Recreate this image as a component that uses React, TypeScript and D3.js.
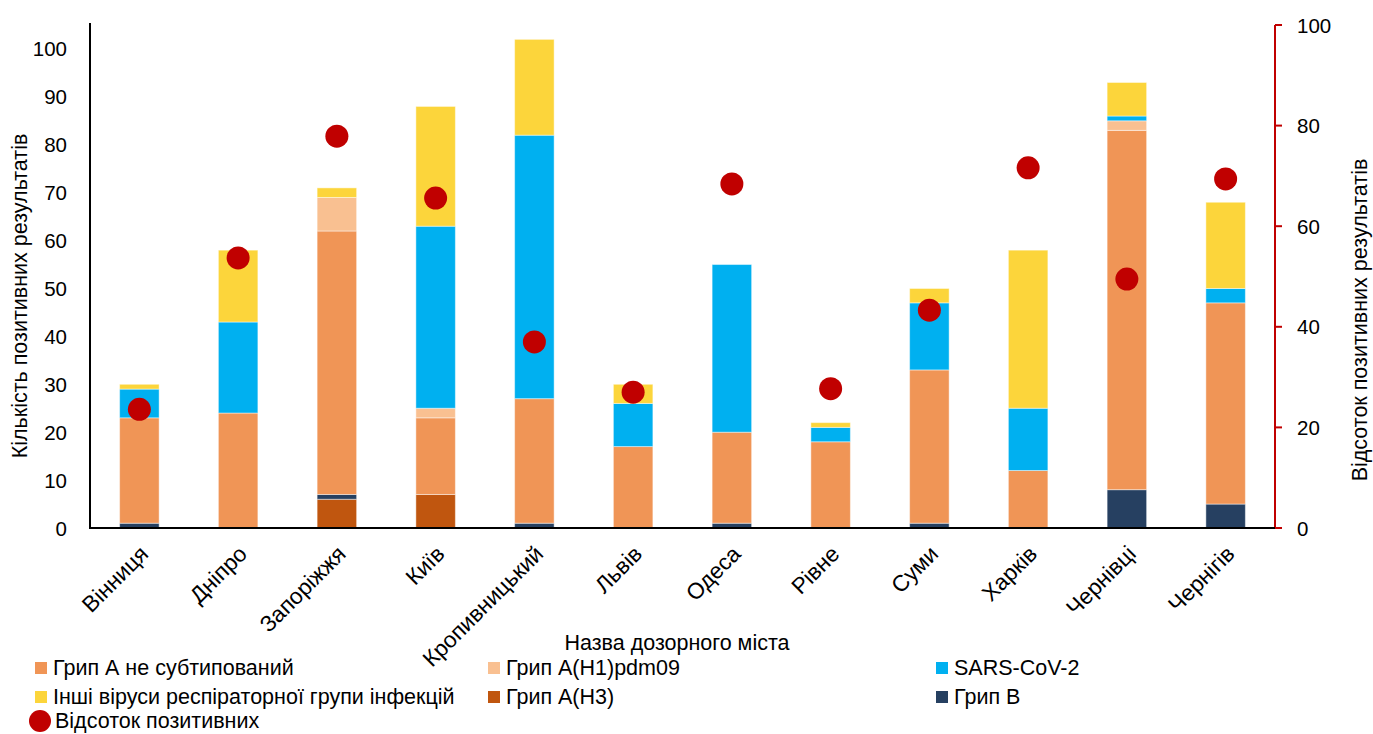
import React from 'react';
import * as d3 from 'd3';

const cities = ['Вінниця', 'Дніпро', 'Запоріжжя', 'Київ', 'Кропивницький', 'Львів', 'Одеса', 'Рівне', 'Суми', 'Харків', 'Чернівці', 'Чернігів'];

// stacked from bottom to top
const fluH3 = [0, 0, 6, 7, 0, 0, 0, 0, 0, 0, 0, 0];
const fluB = [1, 0, 1, 0, 1, 0, 1, 0, 1, 0, 8, 5];
const fluANotSub = [22, 24, 55, 16, 26, 17, 19, 18, 32, 12, 75, 42];
const fluH1 = [0, 0, 7, 2, 0, 0, 0, 0, 0, 0, 2, 0];
const sarsCov2 = [6, 19, 0, 38, 55, 9, 35, 3, 14, 13, 1, 3];
const otherViruses = [1, 15, 2, 25, 20, 4, 0, 1, 3, 33, 7, 18];

const positivePct = [23.6, 53.7, 77.9, 65.6, 37.0, 27.0, 68.4, 27.7, 43.3, 71.6, 49.5, 69.4];

const leftTicks = [0, 10, 20, 30, 40, 50, 60, 70, 80, 90, 100];
const rightTicks = [0, 20, 40, 60, 80, 100];

const series = [
  { key: 'h3', name: 'Грип A(H3)', values: fluH3, color: '#C0560F' },
  { key: 'b', name: 'Грип B', values: fluB, color: '#264061' },
  { key: 'a', name: 'Грип А не субтипований', values: fluANotSub, color: '#F09556' },
  { key: 'h1', name: 'Грип А(H1)pdm09', values: fluH1, color: '#F9C091' },
  { key: 'sars', name: 'SARS-CoV-2', values: sarsCov2, color: '#00B0F0' },
  { key: 'other', name: 'Інші віруси респіраторної групи інфекцій', values: otherViruses, color: '#FCD53B' },
];

const legendRows = [
  ['a', 'h1', 'sars'],
  ['other', 'h3', 'b'],
];

const W = 1373;
const H = 734;
const plot = { left: 90, right: 1275, top: 25, bottom: 528 };
const font = '"Liberation Sans", Arial, sans-serif';
const fs = 21.5;
const tickFs = 20.5;
const catFs = 22.5;

export default function App() {
  const x = d3.scaleBand<string>().domain(cities).range([plot.left, plot.right]).paddingInner(0.6).paddingOuter(0.3);
  const y = d3.scaleLinear().domain([0, 105]).range([plot.bottom, plot.top]);
  const y2 = d3.scaleLinear().domain([0, 100]).range([plot.bottom, plot.top]);

  const table = cities.map((c, i) => {
    const row: Record<string, any> = { city: c };
    series.forEach((s) => (row[s.key] = s.values[i]));
    return row;
  });
  const stacked = d3.stack<any>().keys(series.map((s) => s.key))(table);

  const legendX = [35, 488, 936];
  const legendY = [668, 697];
  const byKey = Object.fromEntries(series.map((s) => [s.key, s]));

  return (
    <svg width={W} height={H} style={{ position: 'absolute', left: 0, top: 0, background: '#fff' }} fontFamily={font}>
      {stacked.map((layer, li) => (
        <g key={layer.key} fill={series[li].color}>
          {layer.map((d, i) =>
            d[1] - d[0] > 0 ? (
              <rect
                key={i}
                x={x(cities[i])!}
                width={x.bandwidth()}
                y={y(d[1])}
                height={y(d[0]) - y(d[1])}
                stroke="#fff"
                strokeOpacity={0.45}
                strokeWidth={1}
              />
            ) : null
          )}
        </g>
      ))}

      {/* left axis */}
      <line x1={plot.left} x2={plot.left} y1={plot.top - 2} y2={plot.bottom} stroke="#000" strokeWidth={2} />
      {leftTicks.map((t) => (
        <text key={t} x={67} y={y(t)} textAnchor="end" dominantBaseline="central" fontSize={tickFs} fill="#000">
          {t}
        </text>
      ))}

      {/* right axis */}
      <line x1={plot.right} x2={plot.right} y1={plot.top} y2={plot.bottom} stroke="#C00000" strokeWidth={2} />
      {rightTicks.map((t) => (
        <g key={t}>
          <line x1={plot.right} x2={plot.right + 7} y1={y2(t)} y2={y2(t)} stroke="#C00000" strokeWidth={2} />
          <text x={1297} y={y2(t)} dominantBaseline="central" fontSize={tickFs} fill="#000">
            {t}
          </text>
        </g>
      ))}

      {/* bottom axis */}
      <line x1={plot.left - 1} x2={plot.right} y1={plot.bottom} y2={plot.bottom} stroke="#000" strokeWidth={2} />
      {cities.map((c) => {
        const cx = x(c)! + x.bandwidth() / 2;
        return (
          <text
            key={c}
            transform={`translate(${cx + 5},${plot.bottom + 22}) rotate(-45)`}
            textAnchor="end"
            dominantBaseline="central"
            fontSize={catFs}
            fill="#000"
          >
            {c}
          </text>
        );
      })}

      {/* percent dots */}
      {positivePct.map((p, i) => (
        <circle key={i} cx={x(cities[i])! + x.bandwidth() / 2} cy={y2(p)} r={11.5} fill="#C00000" />
      ))}

      {/* axis titles */}
      <text transform={`translate(20,296) rotate(-90)`} textAnchor="middle" dominantBaseline="central" fontSize={fs}>
        Кількість позитивних результатів
      </text>
      <text transform={`translate(1360,320) rotate(-90)`} textAnchor="middle" dominantBaseline="central" fontSize={fs}>
        Відсоток позитивних результатів
      </text>
      <text x={677} y={643} textAnchor="middle" dominantBaseline="central" fontSize={fs}>
        Назва дозорного міста
      </text>

      {/* legend */}
      {legendRows.map((row, ri) =>
        row.map((k, ci) => (
          <g key={k} transform={`translate(${legendX[ci]},${legendY[ri]})`}>
            <rect x={0} y={-6} width={12} height={12} fill={byKey[k].color} />
            <text x={18} y={0} dominantBaseline="central" fontSize={fs}>
              {byKey[k].name}
            </text>
          </g>
        ))
      )}
      <g transform={`translate(40,721)`}>
        <circle cx={0} cy={0} r={11} fill="#C00000" />
        <text x={15} y={0} dominantBaseline="central" fontSize={fs}>
          Відсоток позитивних
        </text>
      </g>
    </svg>
  );
}
